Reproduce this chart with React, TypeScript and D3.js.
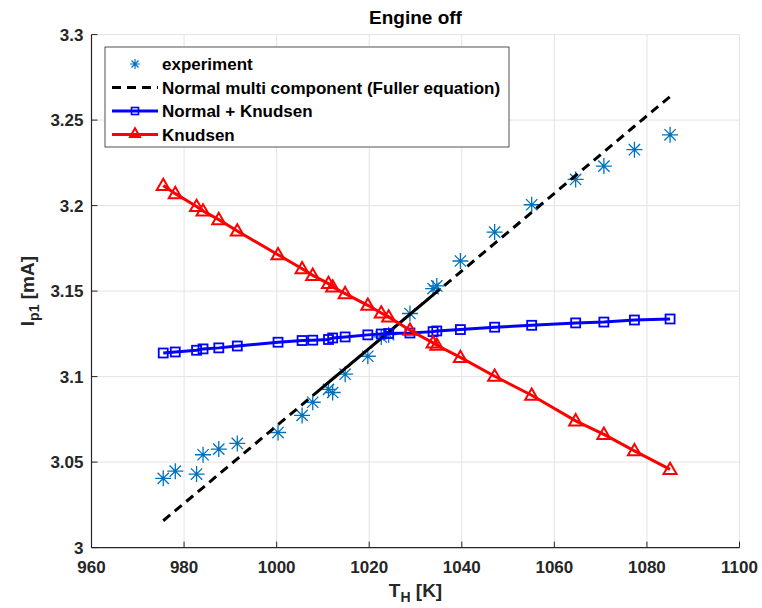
import React from "react";
import { scaleLinear, line } from "d3";

// heater temperature T_H [K], shared by all series
const temps = [
  975.5, 978.1, 982.7, 984.1, 987.5, 991.5, 1000.3, 1005.5, 1007.8, 1011.2, 1012.1, 1014.8,
  1019.7, 1022.6, 1024.2, 1028.8, 1033.8, 1034.6, 1039.7, 1047.1, 1055.1, 1064.6, 1070.7,
  1077.3, 1085.0,
];

// pump current I_p1 [mA]
const experiment = [
  3.0405, 3.0447, 3.043, 3.0543, 3.0576, 3.0609, 3.0673, 3.0773, 3.085, 3.0925, 3.0907, 3.1014,
  3.1119, 3.1232, 3.1245, 3.1369, 3.1515, 3.153, 3.1676, 3.1845, 3.2005, 3.2153, 3.2231, 3.2327,
  3.2414,
];
const fuller = [
  3.0157, 3.0216, 3.032, 3.0351, 3.0429, 3.0519, 3.0719, 3.0836, 3.0889, 3.0966, 3.0986, 3.1047,
  3.1158, 3.1224, 3.126, 3.1364, 3.1478, 3.1496, 3.1611, 3.1779, 3.196, 3.2176, 3.2314, 3.2464,
  3.2638,
];
const normalKnudsen = [
  3.1138, 3.1144, 3.1154, 3.1162, 3.1168, 3.1179, 3.1201, 3.1211, 3.1213, 3.1217, 3.1226, 3.1232,
  3.1244, 3.1249, 3.1252, 3.1255, 3.1263, 3.1267, 3.1275, 3.1289, 3.13, 3.1314, 3.1319, 3.1331,
  3.1337,
];
const knudsen = [
  3.2118, 3.207, 3.1995, 3.1968, 3.1918, 3.1851, 3.1713, 3.1631, 3.1592, 3.1544, 3.1524, 3.1485,
  3.1417, 3.1372, 3.1349, 3.1271, 3.1197, 3.1183, 3.1112, 3.1002, 3.0891, 3.0741, 3.0662, 3.0566,
  3.0457,
];
// the model line was plotted in unsorted order, so part of it is traced several times
const fullerOrder = [
  0, 1, 2, 3, 4, 5, 6, 7, 8, 9, 10, 11, 12, 13, 14, 15, 16, 17, 8, 18, 19, 20, 21, 22, 23, 24,
];

const xTicks = [960, 980, 1000, 1020, 1040, 1060, 1080, 1100];
const yTicks = [3, 3.05, 3.1, 3.15, 3.2, 3.25, 3.3];
const yTickLabels = ["3", "3.05", "3.1", "3.15", "3.2", "3.25", "3.3"];

const FONT = "'Liberation Sans', Arial, Helvetica, sans-serif";
const STAR = "#0072BD";

const starPath = (r: number) => {
  const d = r * 0.7071;
  return `M${-r},0L${r},0M0,${-r}L0,${r}M${-d},${-d}L${d},${d}M${-d},${d}L${d},${-d}`;
};
const triPath = (w: number) => {
  const h = w * 0.87;
  return `M0,${-h * 0.6}L${w / 2},${h * 0.4}L${-w / 2},${h * 0.4}Z`;
};

export default function App() {
  const width = 762;
  const height = 608;
  const x = scaleLinear().domain([960, 1100]).range([91.5, 739.5]);
  const y = scaleLinear().domain([3, 3.3]).range([547.6, 34.6]);
  const [x0, x1] = x.range();
  const [y0, y1] = y.range();

  const lineOf = (vals: number[], order: number[]) =>
    line<number>()
      .x((i) => x(temps[i]))
      .y((i) => y(vals[i]))(order);

  const idx = temps.map((_, i) => i);

  const legend = [
    { label: "experiment", kind: "star" },
    { label: "Normal multi component (Fuller equation)", kind: "dash" },
    { label: "Normal + Knudsen", kind: "square" },
    { label: "Knudsen", kind: "tri" },
  ];

  return (
    <svg
      width={width}
      height={height}
      style={{ position: "absolute", left: 0, top: 0, background: "#fff" }}
      fontFamily={FONT}
      fontWeight="bold"
    >
      <rect width={width} height={height} fill="#fff" />

      {/* grid */}
      {xTicks.map((t) => (
        <line key={"gx" + t} x1={x(t)} x2={x(t)} y1={y0} y2={y1} stroke="#e3e3e3" strokeWidth={1} />
      ))}
      {yTicks.map((t) => (
        <line key={"gy" + t} x1={x0} x2={x1} y1={y(t)} y2={y(t)} stroke="#e3e3e3" strokeWidth={1} />
      ))}

      {/* axes */}
      <line x1={x0} x2={x1} y1={y0} y2={y0} stroke="#262626" strokeWidth={1.2} />
      <line x1={x0} x2={x0} y1={y0} y2={y1} stroke="#262626" strokeWidth={1.2} />
      {xTicks.map((t) => (
        <g key={"tx" + t}>
          <line x1={x(t)} x2={x(t)} y1={y0} y2={y0 - 6} stroke="#262626" strokeWidth={1} />
          <text x={x(t)} y={y0 + 25} textAnchor="middle" fontSize={17} fill="#262626">
            {t}
          </text>
        </g>
      ))}
      {yTicks.map((t, i) => (
        <g key={"ty" + t}>
          <line x1={x0} x2={x0 + 6} y1={y(t)} y2={y(t)} stroke="#262626" strokeWidth={1} />
          <text x={x0 - 8} y={y(t) + 6} textAnchor="end" fontSize={17} fill="#262626">
            {yTickLabels[i]}
          </text>
        </g>
      ))}

      {/* title and labels */}
      <text x={(x0 + x1) / 2} y={24} textAnchor="middle" fontSize={19} fill="#000">
        Engine off
      </text>
      <text x={(x0 + x1) / 2} y={597} textAnchor="middle" fontSize={19} fill="#262626">
        T<tspan fontSize={14} dy={5}>H</tspan>
        <tspan dy={-5}> [K]</tspan>
      </text>
      <text
        transform={`translate(34,${(y0 + y1) / 2}) rotate(-90)`}
        textAnchor="middle"
        fontSize={19}
        fill="#262626"
      >
        I<tspan fontSize={14} dy={5}>p1</tspan>
        <tspan dy={-5}> [mA]</tspan>
      </text>

      {/* experiment */}
      {idx.map((i) => (
        <path
          key={"s" + i}
          d={starPath(8)}
          transform={`translate(${x(temps[i])},${y(experiment[i])})`}
          stroke={STAR}
          strokeWidth={1.3}
          fill="none"
        />
      ))}

      {/* Fuller model */}
      <path
        d={lineOf(fuller, fullerOrder) ?? ""}
        fill="none"
        stroke="#000"
        strokeWidth={3}
        strokeDasharray="9,6"
      />

      {/* Normal + Knudsen */}
      <path d={lineOf(normalKnudsen, idx) ?? ""} fill="none" stroke="#0000ff" strokeWidth={3} />
      {idx.map((i) => (
        <rect
          key={"q" + i}
          x={x(temps[i]) - 4.5}
          y={y(normalKnudsen[i]) - 4.5}
          width={9}
          height={9}
          fill="none"
          stroke="#0000ff"
          strokeWidth={1.8}
        />
      ))}

      {/* Knudsen */}
      <path d={lineOf(knudsen, idx) ?? ""} fill="none" stroke="#ff0000" strokeWidth={3} />
      {idx.map((i) => (
        <path
          key={"t" + i}
          d={triPath(13)}
          transform={`translate(${x(temps[i])},${y(knudsen[i])})`}
          fill="none"
          stroke="#ff0000"
          strokeWidth={2}
          strokeLinejoin="miter"
        />
      ))}

      {/* legend */}
      <g>
        <rect x={105} y={47} width={404} height={100} fill="#fff" stroke="#262626" strokeWidth={0.8} />
        {legend.map((d, i) => {
          const ly = 64 + i * 23.5;
          return (
            <g key={d.label}>
              {d.kind === "star" && (
                <path d={starPath(5)} transform={`translate(135,${ly})`} stroke={STAR} strokeWidth={1.2} fill="none" />
              )}
              {d.kind === "dash" && (
                <line x1={112} x2={158} y1={ly} y2={ly} stroke="#000" strokeWidth={3} strokeDasharray="9,6" />
              )}
              {d.kind === "square" && (
                <g>
                  <line x1={112} x2={158} y1={ly} y2={ly} stroke="#0000ff" strokeWidth={3} />
                  <rect x={131.5} y={ly - 3.5} width={7} height={7} fill="none" stroke="#0000ff" strokeWidth={1.6} />
                </g>
              )}
              {d.kind === "tri" && (
                <g>
                  <line x1={112} x2={158} y1={ly} y2={ly} stroke="#ff0000" strokeWidth={3} />
                  <path d={triPath(10)} transform={`translate(135,${ly - 1})`} fill="none" stroke="#ff0000" strokeWidth={2} />
                </g>
              )}
              <text x={162} y={ly + 6} fontSize={17} fill="#000">
                {d.label}
              </text>
            </g>
          );
        })}
      </g>
    </svg>
  );
}
